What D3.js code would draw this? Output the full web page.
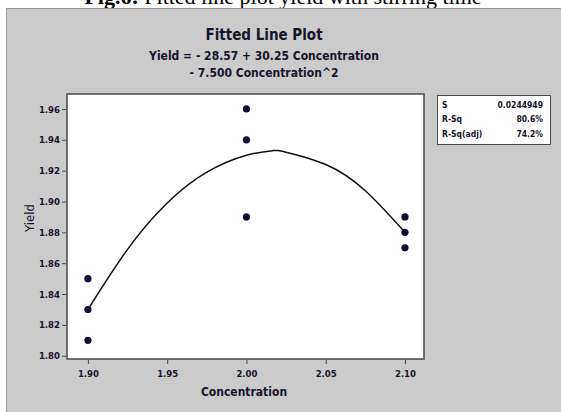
<!DOCTYPE html>
<html>
<head>
<meta charset="utf-8">
<script src="https://d3js.org/d3.v7.min.js"></script>
<style>
  body { margin: 0; background: #fff; }
  text { font-family: "DejaVu Sans Condensed", "DejaVu Sans", sans-serif; fill: #14142a; }
</style>
</head>
<body>
<div id="chart"></div>
<script>
// observed yields at each concentration
var concentrations = [1.90, 1.90, 1.90, 2.00, 2.00, 2.00, 2.10, 2.10, 2.10];
var yields = [1.85, 1.83, 1.81, 1.96, 1.94, 1.89, 1.89, 1.88, 1.87];

// fitted curve
var fitX = [1.90, 1.925, 1.95, 1.975, 2.00, 2.0167, 2.025, 2.05, 2.075, 2.10];
var fitY = [1.830, 1.869, 1.899, 1.919, 1.930, 1.933, 1.932, 1.924, 1.907, 1.880];

var xTicks = [1.90, 1.95, 2.00, 2.05, 2.10];
var yTicks = [1.80, 1.82, 1.84, 1.86, 1.88, 1.90, 1.92, 1.94, 1.96];

var statLabels = ["S", "R-Sq", "R-Sq(adj)"];
var statValues = ["0.0244949", "80.6%", "74.2%"];

var W = 561, H = 412;
var plot = {left: 67, top: 94, right: 424, bottom: 359};

var svg = d3.select("#chart").append("svg")
    .attr("width", W).attr("height", H);

// caption of the figure, cut off at the top like in the scan
var cap = svg.append("text")
    .attr("x", 283).attr("y", 4)
    .attr("text-anchor", "middle")
    .style("font-family", "'Liberation Serif', serif")
    .style("font-size", "22px")
    .style("fill", "#000");
cap.append("tspan").style("font-weight", "bold").text("Fig.6: ");
cap.append("tspan").text("Fitted line plot yield with stirring time");

// grey panel
svg.append("rect")
    .attr("x", 6.5).attr("y", 8.5)
    .attr("width", W).attr("height", H)
    .style("fill", "#cbcbcb")
    .style("stroke", "#9a9a9a");

// titles
svg.append("text").attr("x", 264).attr("y", 40)
    .attr("text-anchor", "middle")
    .style("font-size", "15px").style("font-weight", "bold")
    .text("Fitted Line Plot");
svg.append("text").attr("x", 264).attr("y", 60)
    .attr("text-anchor", "middle")
    .style("font-size", "12px").style("font-weight", "bold")
    .text("Yield = - 28.57 + 30.25 Concentration");
svg.append("text").attr("x", 264).attr("y", 77)
    .attr("text-anchor", "middle")
    .style("font-size", "12px").style("font-weight", "bold")
    .text("- 7.500 Concentration^2");

var x = d3.scaleLinear().domain([1.8868, 2.112]).range([plot.left, plot.right]);
var y = d3.scaleLinear().domain([1.7979, 1.9697]).range([plot.bottom, plot.top]);

// plot area
svg.append("rect")
    .attr("x", plot.left).attr("y", plot.top)
    .attr("width", plot.right - plot.left).attr("height", plot.bottom - plot.top)
    .style("fill", "#fff")
    .style("stroke", "#4a4a4a")
    .style("stroke-width", 1.5);

// axes
var xAxis = svg.append("g")
    .attr("transform", "translate(0," + (plot.bottom + 1) + ")")
    .call(d3.axisBottom(x).tickValues(xTicks).tickSize(4).tickSizeOuter(0).tickFormat(d3.format(".2f")));
var yAxis = svg.append("g")
    .attr("transform", "translate(" + (plot.left - 1) + ",0)")
    .call(d3.axisLeft(y).tickValues(yTicks).tickSize(4).tickSizeOuter(0).tickFormat(d3.format(".2f")));

[xAxis, yAxis].forEach(function(a) {
  a.select(".domain").remove();
  a.selectAll(".tick line").style("stroke", "#4a4a4a");
  a.selectAll(".tick text")
    .style("font-size", "9.5px").style("font-weight", "bold")
    .style("font-family", "'DejaVu Sans Condensed', sans-serif")
    .style("fill", "#14142a");
});
xAxis.selectAll(".tick text").attr("dy", "1.1em");
yAxis.selectAll(".tick text").attr("x", -6);

// axis titles
svg.append("text").attr("x", 244).attr("y", 396)
    .attr("text-anchor", "middle")
    .style("font-size", "12px").style("font-weight", "bold")
    .text("Concentration");
svg.append("text")
    .attr("transform", "translate(34,218) rotate(-90)")
    .attr("text-anchor", "middle")
    .style("font-size", "13px")
    .text("Yield");

// fitted curve
var line = d3.line()
    .x(function(d, i) { return x(fitX[i]); })
    .y(function(d, i) { return y(fitY[i]); })
    .curve(d3.curveNatural);
svg.append("path")
    .datum(fitX)
    .attr("d", line)
    .style("fill", "none")
    .style("stroke", "#111")
    .style("stroke-width", 1.5);

// points
svg.selectAll("circle.pt")
    .data(yields)
    .enter().append("circle")
    .attr("class", "pt")
    .attr("cx", function(d, i) { return x(concentrations[i]); })
    .attr("cy", function(d) { return y(d); })
    .attr("r", 3.6)
    .style("fill", "#0b0b35");

// stats box
svg.append("rect")
    .attr("x", 437.5).attr("y", 95.5)
    .attr("width", 113).attr("height", 49)
    .style("fill", "#fff")
    .style("stroke", "#4a4a4a");
statLabels.forEach(function(s, i) {
  svg.append("text").attr("x", 442).attr("y", 107.5 + i * 14.5)
      .style("font-size", "8.5px").style("font-weight", "bold")
      .text(s);
  svg.append("text").attr("x", 543).attr("y", 107.5 + i * 14.5)
      .attr("text-anchor", "end")
      .style("font-size", "8.5px").style("font-weight", "bold")
      .text(statValues[i]);
});
</script>
</body>
</html>
